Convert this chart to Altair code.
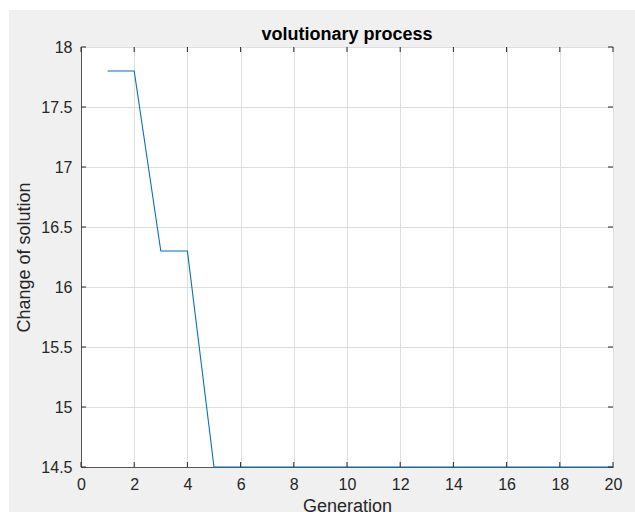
import altair as alt
import pandas as pd

generation = list(range(1, 21))
solution = [17.8, 17.8, 16.3, 16.3] + [14.5] * 16
x_ticks = list(range(0, 21, 2))
y_ticks = [14.5, 15, 15.5, 16, 16.5, 17, 17.5, 18]
title_text = ["volutionary process"]

W, H = 532, 420
FONT = "Liberation Sans"
AX = "#262626"

df = pd.DataFrame({"g": generation, "s": solution})
xt = pd.DataFrame({"g": x_ticks})
yt = pd.DataFrame({"s": y_ticks})
dummy = pd.DataFrame({"a": [0]})
tdf = pd.DataFrame({"t": title_text})

xs = alt.Scale(domain=[0, 20], nice=False, zero=False)
ys = alt.Scale(domain=[14.5, 18], nice=False, zero=False)
xaxis = alt.Axis(values=x_ticks, title="Generation", format="d", tickSize=0,
                 labelPadding=9, titlePadding=5, grid=True, labelFlush=False)
yaxis = alt.Axis(values=y_ticks, title="Change of solution", format="~g", tickSize=0,
                 labelPadding=9, titlePadding=7, grid=True, labelFlush=False)
X = alt.X("g:Q", scale=xs, axis=xaxis)
Y = alt.Y("s:Q", scale=ys, axis=yaxis)

line = alt.Chart(df).mark_line(color="#0072BD", strokeWidth=1.1).encode(x=X, y=Y)

tick_len = 5
xb = alt.Chart(xt).mark_rule(color=AX, strokeWidth=1).encode(
    x=X, y=alt.value(H), y2=alt.value(H - tick_len))
xtop = alt.Chart(xt).mark_rule(color=AX, strokeWidth=1).encode(
    x=X, y=alt.value(0), y2=alt.value(tick_len))
yl = alt.Chart(yt).mark_rule(color=AX, strokeWidth=1).encode(
    y=Y, x=alt.value(0), x2=alt.value(tick_len))
yr = alt.Chart(yt).mark_rule(color=AX, strokeWidth=1).encode(
    y=Y, x=alt.value(W), x2=alt.value(W - tick_len))

strip_top = alt.Chart(dummy).mark_rect(color="white").encode(
    x=alt.value(-81), x2=alt.value(W + 22), y=alt.value(-47), y2=alt.value(-37))
strip_left = alt.Chart(dummy).mark_rect(color="white").encode(
    x=alt.value(-81), x2=alt.value(-72), y=alt.value(-47), y2=alt.value(H + 45))

title = alt.Chart(tdf).mark_text(
    font=FONT, fontSize=18, fontWeight="bold", color="#000000",
    align="center", baseline="alphabetic"
).encode(text="t:N", x=alt.value(W / 2), y=alt.value(-7))

chart = alt.layer(strip_top, strip_left, line, xb, xtop, yl, yr, title).properties(
    width=W, height=H,
    autosize=alt.AutoSizeParams(type="none"),
    padding={"left": 81, "top": 47, "right": 22, "bottom": 45},
    background="#f0f0f0",
).configure_view(
    fill="white", stroke="#555555", strokeWidth=1
).configure_axis(
    labelFont=FONT, titleFont=FONT, labelFontSize=16, titleFontSize=18,
    labelColor=AX, titleColor=AX, titleFontWeight="normal",
    domainColor="#555555", domainWidth=1,
    gridColor="#dedede", gridWidth=1,
)

chart.save("out.html", embed_options={"renderer": "svg", "actions": False})
